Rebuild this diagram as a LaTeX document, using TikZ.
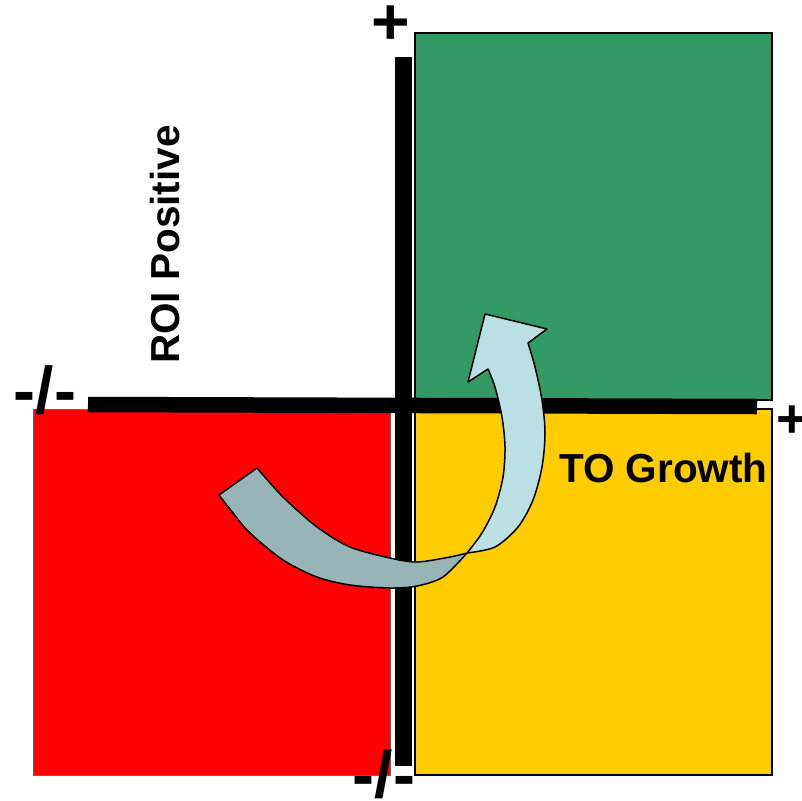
\documentclass[tikz,border=0pt]{standalone}
\usepackage{fontspec}
\setmainfont{Liberation Sans}
\definecolor{qred}{RGB}{255,0,0}
\definecolor{qyellow}{RGB}{255,204,0}
\definecolor{qgreen}{RGB}{51,153,102}
\definecolor{arrdark}{RGB}{151,181,183}
\definecolor{arrlight}{RGB}{187,224,227}
\begin{document}
\begin{tikzpicture}[x=1pt,y=-1pt,
  quad/.style={line width=1.5pt,draw=black},
  axisbar/.style={line width=16pt,line cap=butt,draw=black},
  lbl/.style={font=\fontsize{40.5}{40.5}\selectfont\bfseries,inner sep=0pt},
  sign/.style={font=\fontsize{66}{66}\selectfont\bfseries,inner sep=0pt},
  arr/.style={draw=black,line width=1.5pt,line join=round}]
\useasboundingbox (0,0) rectangle (802,800);
\fill[white] (0,0) rectangle (802,800);
% quadrants
\draw[quad,fill=qred,draw=black!60,line width=1pt] (33,409) rectangle (390,775);
\draw[quad,fill=qyellow] (415,409) rectangle (772,775);
\draw[quad,fill=qgreen] (415,33) rectangle (772,400);
% axes
\coordinate (vtop) at (403.5,57);
\coordinate (vbot) at (403.5,766);
\coordinate (hleft) at (88,404.5);
\coordinate (hright) at (757,406.5);
\draw[axisbar,line width=17pt] (vtop) -- (vbot);
\draw[axisbar,line width=15.5pt] (hleft) -- (hright);
% curved arrow: rising (light) part
\draw[arr,fill=arrlight]
  plot[smooth] coordinates {(467,553) (495,547) (518,527) (533,500) (542,467) (545,433) (542,400) (535,367) (528,343)}
  -- (547,329) -- (485,314) -- (468,382) --
  plot[smooth] coordinates {(488,369) (495,387) (502,417) (505,447) (503,477) (495,507) (482,533) (467,553)}
  -- cycle;
% curved arrow: lower (dark) part
\draw[arr,fill=arrdark]
  (219,495) --
  plot[smooth] coordinates {(257,468) (283,497) (317,527) (350,547) (390,558) (417,562) (450,557) (467,553)}
  --
  plot[smooth] coordinates {(467,553) (443,577) (417,586) (390,588) (350,585) (317,577) (283,560) (250,533) (233,513) (219,495)}
  -- cycle;
% labels
\node[lbl,rotate=90,anchor=base west] (roi) at (179,364) {ROI Positive};
\node[lbl,anchor=base west] (to) at (559,482) {TO Growth};
\node[sign] (ptop) at (391,25) {+};
\node[sign,font=\fontsize{54}{54}\selectfont\bfseries] (pright) at (792,422) {+};
\node[sign,anchor=base] (mleft) at (45,413) {-/-};
\node[sign,anchor=base] (mbot) at (384,797) {-/-};
\end{tikzpicture}
\end{document}
